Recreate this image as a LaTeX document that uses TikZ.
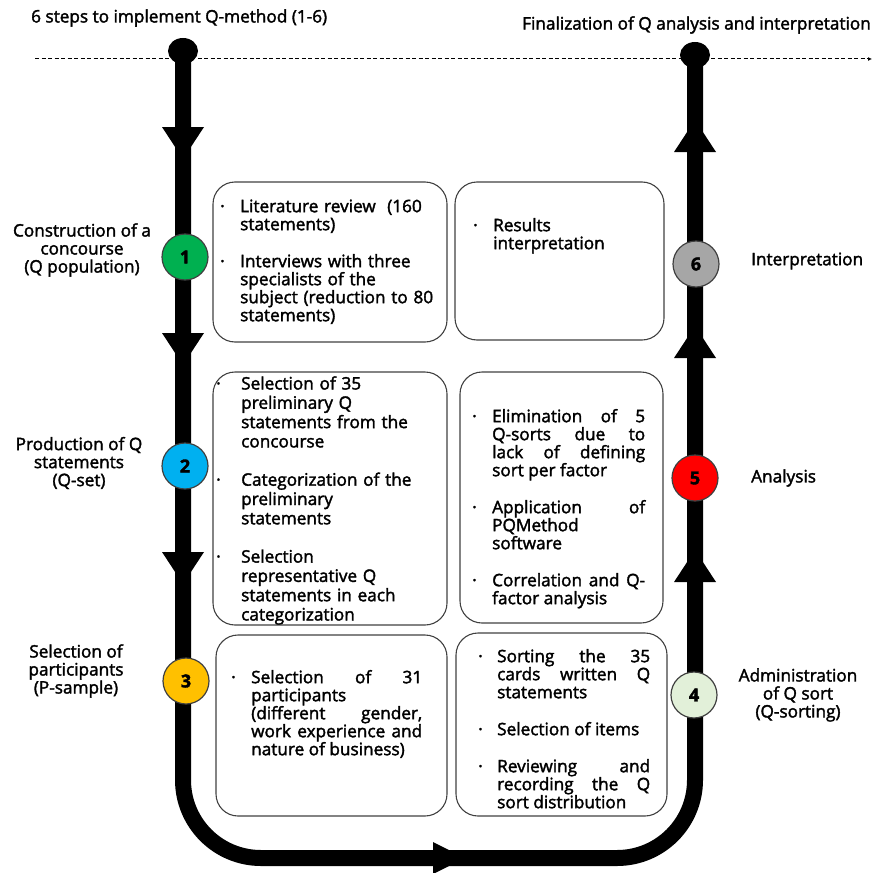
\documentclass[tikz,border=0pt]{standalone}
\usepackage{fontspec}
\setmainfont{Open Sans}[FakeBold=2]
\usetikzlibrary{arrows.meta}
\definecolor{stepgreen}{HTML}{00B050}
\definecolor{stepblue}{HTML}{00B0F0}
\definecolor{stepgold}{HTML}{FFC000}
\definecolor{steplight}{HTML}{E2F0D9}
\definecolor{stepred}{HTML}{FF0000}
\definecolor{stepgrey}{HTML}{A6A6A6}
\definecolor{rimgrey}{HTML}{404040}
\newcommand{\qitem}[2][20pt]{\par\hangindent=#1\hangafter=0\noindent\llap{\makebox[#1][l]{\char"00B7}}#2\par}
\newcommand{\qgap}{\vskip 19pt}

\begin{document}
\begin{tikzpicture}[x=1pt,y=-1pt,
  flow/.style={line width=16pt,rounded corners=78pt},
  stepdot/.style={circle,draw=rimgrey,line width=1.2pt,minimum size=46pt,inner sep=0pt,font=\fontsize{18}{20}\selectfont\bfseries},
  qbox/.style={draw=rimgrey,line width=1.1pt,rounded corners=22pt,inner sep=0pt},
  qtext/.style={anchor=north west,inner sep=0pt,font=\fontsize{17.2}{18}\selectfont},
  lbl/.style={align=center,inner sep=0pt,font=\fontsize{17.2}{18}\selectfont}]
\useasboundingbox (0,0) rectangle (874,872);

% Titles and dashed time line
\node[anchor=west,inner sep=0pt,font=\fontsize{17.2}{18}\selectfont] (titleL) at (31,18) {6 steps to implement Q-method (1-6)};
\node[anchor=east,inner sep=0pt,font=\fontsize{17.2}{18}\selectfont] (titleR) at (871,25) {Finalization of Q analysis and interpretation};
\coordinate (dashL) at (35,59);
\coordinate (dashR) at (872,59);
\draw[line width=1pt,dash pattern=on 4pt off 2.5pt,-{Latex[length=4pt,width=4pt]}] (dashL) -- (dashR);

% Main U-shaped path
\coordinate (topL) at (183,51);
\coordinate (botL) at (183,858);
\coordinate (botR) at (695,858);
\coordinate (topR) at (695,55);
\draw[flow] (topL) -- (botL) -- (botR) -- (topR);
\fill (topL) ellipse (15pt and 13pt);
\fill (topR) ellipse (15pt and 13pt);

% Arrow heads on the path
\foreach \yb in {127,333,552} {
  \fill (183-21,\yb) -- (183+21,\yb) -- (183,\yb+32) -- cycle;
}
\foreach \yb in {152,358,582} {
  \fill (695-21,\yb) -- (695+21,\yb) -- (695,\yb-32) -- cycle;
}
\fill (433,858-16) -- (433,858+16) -- (465,858) -- cycle;

% Boxes
\node[qbox,minimum width=234pt,minimum height=160pt] (b1) at (330,262) {};
\node[qbox,minimum width=209pt,minimum height=158pt] (b6) at (559.5,261) {};
\node[qbox,minimum width=234pt,minimum height=253pt] (b2) at (330,498.5) {};
\node[qbox,minimum width=203pt,minimum height=251pt] (b5) at (561.5,497.5) {};
\node[qbox,minimum width=231pt,minimum height=181pt] (b3) at (331.5,725.5) {};
\node[qbox,minimum width=211pt,minimum height=183pt] (b4) at (561.5,724.5) {};

% Box texts
\node[qtext,align=left,text width=222pt] (t1) at (220,194) {%
  \qitem[20pt]{Literature review~~(160\newline statements)}\qgap
  \qitem[20pt]{Interviews with three\newline specialists of the\newline subject (reduction to 80\newline statements)}};
\node[qtext,align=left,text width=180pt] (t6) at (473,213) {%
  \qitem[20pt]{Results\newline interpretation}};
\node[qtext,align=left,text width=222pt,font=\fontsize{17.2}{19.3}\selectfont] (t2) at (216,370) {%
  \qitem[25pt]{Selection of 35\newline preliminary Q\newline statements from the\newline concourse}\qgap
  \qitem[25pt]{Categorization of the\newline preliminary\newline statements}\qgap
  \qitem[25pt]{Selection\newline representative Q\newline statements in each\newline categorization}};
\node[qtext,align=justify,text width=173pt] (t5) at (472,404) {%
  \qitem[20pt]{Elimination of 5\linebreak Q-sorts due to\linebreak lack of defining\linebreak sort per factor}\qgap
  \qitem[20pt]{Application of\linebreak PQMethod\newline software}\qgap
  \qitem[20pt]{Correlation and Q-\linebreak factor analysis}};
\node[qtext,align=justify,text width=191pt] (t3) at (231,665) {%
  \qitem[20pt]{Selection of 31\linebreak participants\newline (different gender,\linebreak work experience and\linebreak nature of business)}};
\node[qtext,align=justify,text width=172pt] (t4) at (478,644) {%
  \qitem[19pt]{Sorting the 35\linebreak cards written Q\linebreak statements}\qgap
  \qitem[19pt]{Selection of items}\qgap
  \qitem[19pt]{Reviewing and\linebreak recording the Q\linebreak sort distribution}};

% Step circles
\node[stepdot,fill=stepgreen] (s1) at (185,257) {1};
\node[stepdot,fill=stepblue] (s2) at (185,466) {2};
\node[stepdot,fill=stepgold] (s3) at (186,681) {3};
\node[stepdot,fill=steplight] (s4) at (694,695) {4};
\node[stepdot,fill=stepred] (s5) at (695,478) {5};
\node[stepdot,fill=stepgrey] (s6) at (696,264) {6};

% Step labels
\node[lbl] (l1) at (82,250) {Construction of a\\concourse\\(Q population)};
\node[lbl] (l2) at (79,463) {Production of Q\\statements\\(Q-set)};
\node[lbl] (l3) at (76,671) {Selection of\\participants\\(P-sample)};
\node[lbl,anchor=west] (l6) at (751,261) {Interpretation};
\node[lbl,anchor=west] (l5) at (751,478) {Analysis};
\node[lbl] (l4) at (798,695) {Administration\\of Q sort\\(Q-sorting)};
\end{tikzpicture}
\end{document}
